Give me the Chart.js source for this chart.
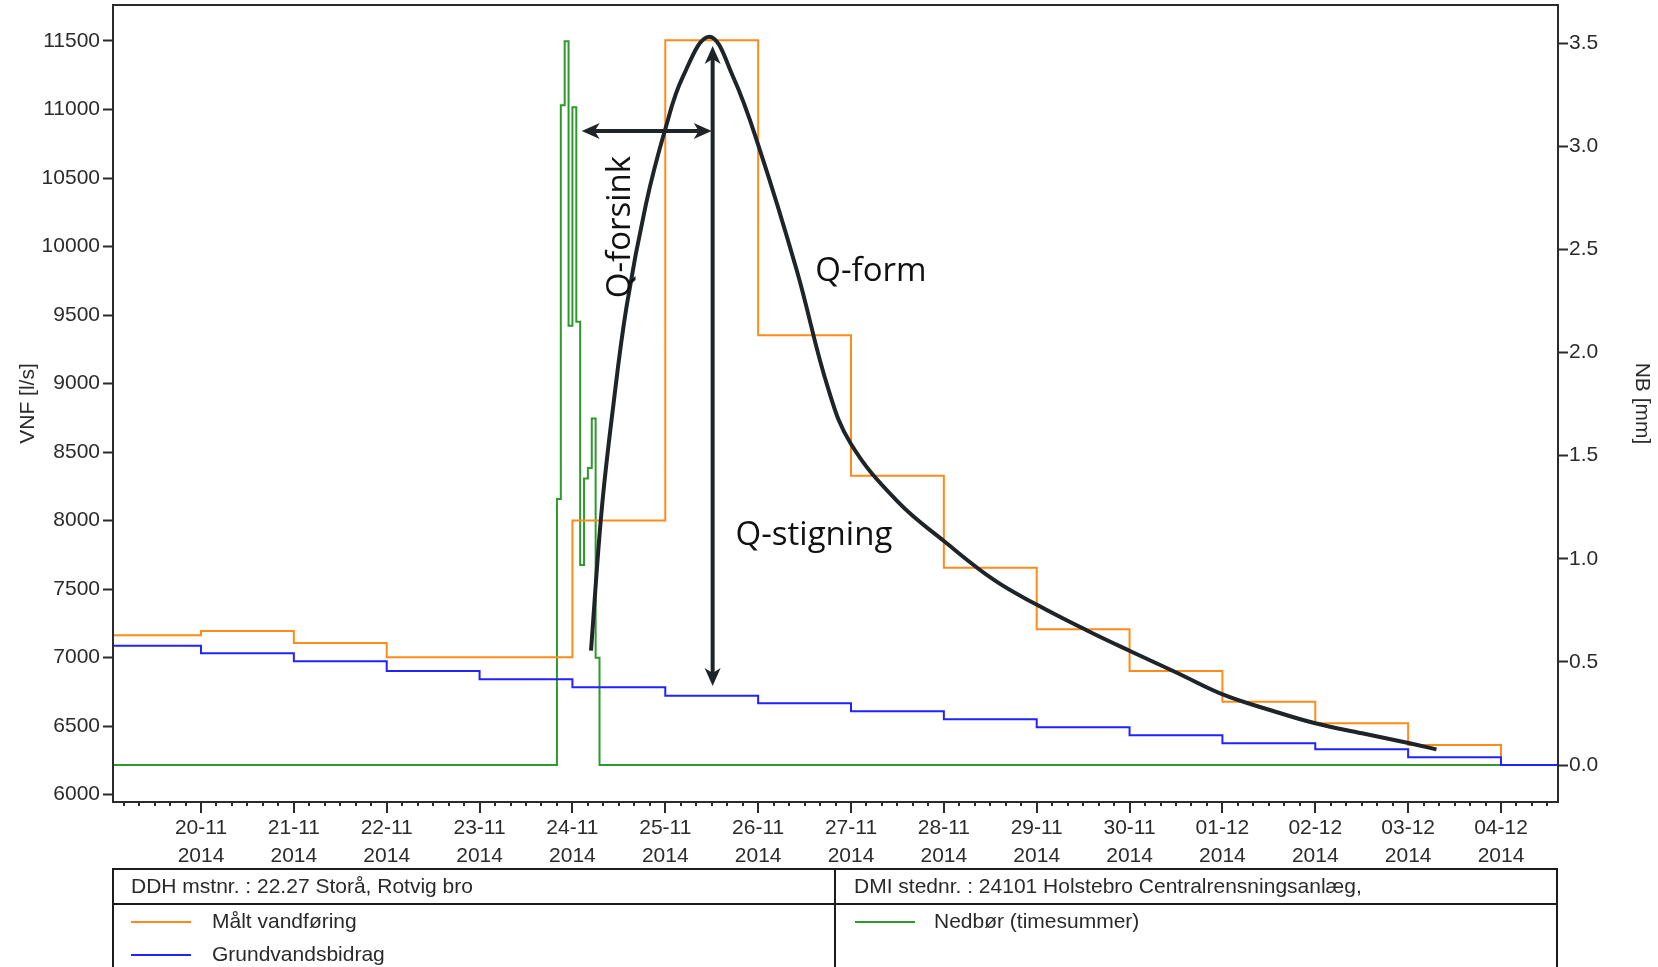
<!DOCTYPE html>
<html>
<head>
<meta charset="utf-8">
<script src="https://cdn.jsdelivr.net/npm/chart.js@4.4.1/dist/chart.umd.min.js"></script>
<style>
  html, body { margin: 0; padding: 0; background: #fff; }
  #wrap { position: relative; width: 1658px; height: 967px; overflow: hidden; }
  #chart { position: absolute; left: 0; top: 0; }
  .line { position: absolute; background: #1c1c1c; }
  .txt { position: absolute; font: 21px "Liberation Sans", Arial, sans-serif; color: #2a2a2a; white-space: nowrap; line-height: 21px; }
  .key { position: absolute; height: 2px; width: 60px; }
</style>
</head>
<body>
<div id="wrap">
  <canvas id="chart" width="1658" height="967"></canvas>

  <!-- station table under the chart -->
  <div class="line" style="left:112px;top:868px;width:1446px;height:2px"></div>
  <div class="line" style="left:112px;top:903px;width:1446px;height:2px"></div>
  <div class="line" style="left:112px;top:868px;width:2px;height:99px"></div>
  <div class="line" style="left:834px;top:868px;width:2px;height:99px"></div>
  <div class="line" style="left:1556px;top:868px;width:2px;height:99px"></div>

  <div class="txt" style="left:131px;top:875px">DDH mstnr. : 22.27 Storå, Rotvig bro</div>
  <div class="txt" style="left:854px;top:875px">DMI stednr. : 24101 Holstebro Centralrensningsanlæg,</div>

  <div class="key" style="left:131px;top:921px;background:#ff8c1a"></div>
  <div class="txt" style="left:212px;top:910px">Målt vandføring</div>
  <div class="key" style="left:131px;top:954px;background:#2222ff"></div>
  <div class="txt" style="left:212px;top:943px">Grundvandsbidrag</div>
  <div class="key" style="left:855px;top:921px;background:#2e9a2e"></div>
  <div class="txt" style="left:934px;top:910px">Nedbør (timesummer)</div>
</div>

<script>
// ---- data ----
const flowDates = ['2014-11-19', '2014-11-20', '2014-11-21', '2014-11-22', '2014-11-23', '2014-11-24',
  '2014-11-25', '2014-11-26', '2014-11-27', '2014-11-28', '2014-11-29', '2014-11-30',
  '2014-12-01', '2014-12-02', '2014-12-03', '2014-12-04'];
// daily measured discharge (l/s)
const measuredFlow = [7163, 7195, 7107, 7003, 7003, 8000, 11505, 9353, 8327, 7656, 7207, 6903, 6679, 6521, 6363, 6273];
// daily groundwater contribution (l/s)
const baseFlow = [7087, 7032, 6973, 6903, 6842, 6784, 6722, 6667, 6609, 6550, 6492, 6433, 6375, 6331, 6273, 6217];
const seriesEnd = '2014-12-05';

// hourly precipitation (mm)
const rainTimes = ['2014-11-19T00:00', '2014-11-23T20:00', '2014-11-23T21:00', '2014-11-23T22:00', '2014-11-23T23:00',
  '2014-11-24T00:00', '2014-11-24T01:00', '2014-11-24T02:00', '2014-11-24T03:00', '2014-11-24T04:00',
  '2014-11-24T05:00', '2014-11-24T06:00', '2014-11-24T07:00', '2014-12-05T00:00'];
const rainMm = [0, 1.29, 3.20, 3.51, 2.13, 3.19, 2.15, 0.97, 1.39, 1.44, 1.68, 0.52, 0, 0];

// hand drawn hydrograph sketch (days after 20-11, l/s)
const qFormDay = [4.200, 4.315, 4.437, 4.584, 4.792, 4.997, 5.191, 5.474, 5.729, 6.012, 6.415, 6.752, 7.000,
  7.506, 8.001, 8.540, 9.008, 9.531, 10.022, 10.521, 11.017, 11.512, 12.000, 12.503, 13.017, 13.305];
const qFormFlow = [7052, 8077, 8822, 9566, 10310, 10850, 11241, 11531, 11241, 10719, 9829, 8968, 8559,
  8136, 7851, 7567, 7384, 7202, 7043, 6886, 6728, 6618, 6521, 6448, 6375, 6331];

// tick labels
const xTickLabels = ['20-11', '21-11', '22-11', '23-11', '24-11', '25-11', '26-11', '27-11',
  '28-11', '29-11', '30-11', '01-12', '02-12', '03-12', '04-12'];
const xTickYear = '2014';
const flowTicks = [6000, 6500, 7000, 7500, 8000, 8500, 9000, 9500, 10000, 10500, 11000, 11500];
const rainTicks = [0, 0.5, 1, 1.5, 2, 2.5, 3, 3.5];

// ---- helpers ----
const BASE = Date.UTC(2014, 10, 20);
const toDay = (s) => (Date.parse((s.length === 10 ? s + 'T00:00' : s) + 'Z') - BASE) / 864e5;

function stepPoints(dates, values, end) {
  const pts = dates.map((d, i) => ({ x: toDay(d), y: values[i] }));
  if (end) pts.push({ x: toDay(end), y: values[values.length - 1] });
  return pts;
}

const INK = '#1f2429';
const AXIS = '#2b2b2b';
const FONT = '"Liberation Sans", Arial, sans-serif';

// arrows and labels of the sketch, in data units (day, l/s)
const arrows = [
  { from: [4.100, 10843], to: [5.500, 10843] },
  { from: [5.510, 6793], to: [5.510, 11464] },
];
const notes = [
  { text: 'Q-forsink', at: [4.518, 10142], rot: -Math.PI / 2 },
  { text: 'Q-form', at: [7.215, 9814], rot: 0 },
  { text: 'Q-stigning', at: [6.601, 7888], rot: 0 },
];

function doubleArrow(ctx, x1, y1, x2, y2) {
  const a = Math.atan2(y2 - y1, x2 - x1);
  const head = 18, half = 8, notch = 13;
  const c = Math.cos(a), s = Math.sin(a);
  ctx.beginPath();
  ctx.moveTo(x1 + c * notch, y1 + s * notch);
  ctx.lineTo(x2 - c * notch, y2 - s * notch);
  ctx.stroke();
  [[x1, y1, -1], [x2, y2, 1]].forEach(([px, py, d]) => {
    const cc = c * d, ss = s * d;
    ctx.beginPath();
    ctx.moveTo(px, py);
    ctx.lineTo(px - cc * head - ss * half, py - ss * head + cc * half);
    ctx.lineTo(px - cc * notch, py - ss * notch);
    ctx.lineTo(px - cc * head + ss * half, py - ss * head - cc * half);
    ctx.closePath();
    ctx.fill();
  });
}

// no extra room for half tick labels: the plot box is fixed
function noPad(s) {
  s.paddingTop = 0;
  s.paddingBottom = 0;
  s.paddingLeft = 0;
  s.paddingRight = 0;
}

const frameAndTicks = {
  id: 'frameAndTicks',
  afterDraw(chart) {
    const { ctx, chartArea: a, scales: { x } } = chart;
    ctx.save();
    ctx.strokeStyle = AXIS;
    ctx.lineWidth = 2;
    ctx.strokeRect(a.left, a.top, a.right - a.left, a.bottom - a.top);
    // 4-hourly minor ticks, daily major ticks
    for (let h = Math.ceil(x.min * 6); h <= x.max * 6; h++) {
      const px = Math.round(x.getPixelForValue(h / 6));
      const len = h % 6 === 0 ? 11 : 4;
      ctx.beginPath();
      ctx.moveTo(px, a.bottom);
      ctx.lineTo(px, a.bottom + len);
      ctx.stroke();
    }
    ctx.restore();
  },
};

const sketch = {
  id: 'sketch',
  afterDatasetsDraw(chart) {
    const { ctx, scales: { x, y } } = chart;
    ctx.save();
    ctx.strokeStyle = INK;
    ctx.fillStyle = INK;
    ctx.lineWidth = 4;
    arrows.forEach((ar) => {
      doubleArrow(ctx,
        x.getPixelForValue(ar.from[0]), y.getPixelForValue(ar.from[1]),
        x.getPixelForValue(ar.to[0]), y.getPixelForValue(ar.to[1]));
    });
    ctx.font = '33px "Open Sans", sans-serif';
    ctx.textAlign = 'center';
    ctx.textBaseline = 'middle';
    ctx.fillStyle = '#111';
    notes.forEach((n) => {
      ctx.save();
      ctx.translate(x.getPixelForValue(n.at[0]), y.getPixelForValue(n.at[1]));
      ctx.rotate(n.rot);
      ctx.fillText(n.text, 0, 0);
      ctx.restore();
    });
    ctx.restore();
  },
};

new Chart(document.getElementById('chart'), {
  type: 'line',
  data: {
    datasets: [
      {
        label: 'Q-form',
        data: qFormDay.map((d, i) => ({ x: d, y: qFormFlow[i] })),
        borderColor: INK,
        borderWidth: 4,
        tension: 0.4,
        pointRadius: 0,
        yAxisID: 'y',
      },
      {
        label: 'Grundvandsbidrag',
        data: stepPoints(flowDates, baseFlow, seriesEnd),
        borderColor: '#2222ff',
        borderWidth: 2,
        stepped: true,
        pointRadius: 0,
        yAxisID: 'y',
      },
      {
        label: 'Målt vandføring',
        data: stepPoints(flowDates, measuredFlow),
        borderColor: '#ff8c1a',
        borderWidth: 2,
        stepped: true,
        pointRadius: 0,
        yAxisID: 'y',
      },
      {
        label: 'Nedbør (timesummer)',
        data: stepPoints(rainTimes, rainMm),
        borderColor: '#2e9a2e',
        borderWidth: 2,
        stepped: true,
        pointRadius: 0,
        yAxisID: 'y2',
      },
    ],
  },
  options: {
    responsive: false,
    animation: false,
    layout: { autoPadding: false, padding: { top: 5, left: 0, right: 0, bottom: 95 } },
    plugins: { legend: { display: false }, tooltip: { enabled: false } },
    scales: {
      x: {
        type: 'linear',
        min: -0.9477,
        max: 14.614,
        afterFit: (s) => { s.height = 70; noPad(s); },
        afterBuildTicks: (s) => { s.ticks = xTickLabels.map((_, i) => ({ value: i })); },
        grid: { display: false, drawTicks: false },
        border: { display: false },
        ticks: {
          autoSkip: false,
          maxRotation: 0,
          padding: 12,
          color: AXIS,
          font: { family: FONT, size: 21, lineHeight: 1.333 },
          callback: (v, i) => [xTickLabels[i], xTickYear],
        },
      },
      y: {
        position: 'left',
        min: 5946.7,
        max: 11762.5,
        afterFit: (s) => { s.width = 113; noPad(s); },
        afterBuildTicks: (s) => { s.ticks = flowTicks.map((v) => ({ value: v })); },
        grid: { drawOnChartArea: false, tickLength: 10, tickColor: AXIS, tickWidth: 2 },
        border: { display: false },
        ticks: {
          padding: 3,
          color: AXIS,
          font: { family: FONT, size: 21 },
          callback: (v) => String(v),
        },
        title: {
          display: true,
          text: 'VNF [l/s]',
          color: AXIS,
          font: { family: FONT, size: 21 },
          padding: { top: 16, bottom: 0 },
        },
      },
      y2: {
        position: 'right',
        min: -0.1794,
        max: 3.6857,
        afterFit: (s) => { s.width = 100; noPad(s); },
        afterBuildTicks: (s) => { s.ticks = rainTicks.map((v) => ({ value: v })); },
        grid: { drawOnChartArea: false, tickLength: 10, tickColor: AXIS, tickWidth: 2 },
        border: { display: false },
        ticks: {
          padding: 1,
          color: AXIS,
          font: { family: FONT, size: 21 },
          callback: (v) => v.toFixed(1),
        },
        title: {
          display: true,
          text: 'NB [mm]',
          color: AXIS,
          font: { family: FONT, size: 21 },
          padding: { top: 4, bottom: 0 },
        },
      },
    },
  },
  plugins: [frameAndTicks, sketch],
});
</script>
</body>
</html>
